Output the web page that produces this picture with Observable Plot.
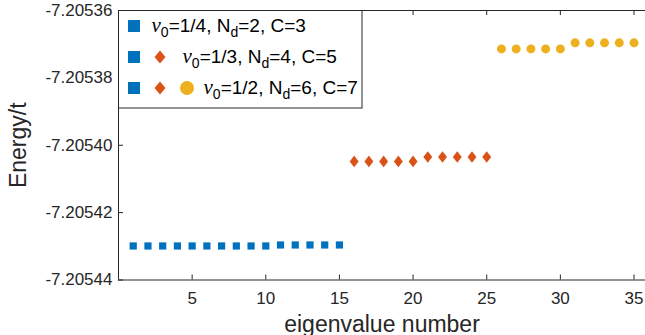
<!DOCTYPE html>
<html><head><meta charset="utf-8">
<script src="https://cdn.jsdelivr.net/npm/d3@7"></script>
<script src="https://cdn.jsdelivr.net/npm/@observablehq/plot@0.6"></script>
<style>
body{margin:0;background:#fff;}
#wrap{position:relative;width:645px;height:335px;overflow:hidden;}
#wrap svg{display:block;}
#legend{position:absolute;left:0;top:0;pointer-events:none;}
</style></head>
<body><div id="wrap"></div>
<script>
// ---- data ----
const xTicks = [5, 10, 15, 20, 25, 30, 35];
const yTicks = [-7.20544, -7.20542, -7.20540, -7.20538, -7.20536];
const xDomain = [0, 35.78];
const yDomain = [-7.20544, -7.20536];

const blueX = [1,2,3,4,5,6,7,8,9,10,11,12,13,14,15];
const blueY = [-7.2054299,-7.2054299,-7.2054299,-7.2054299,-7.2054299,-7.2054299,-7.2054299,-7.2054299,-7.2054299,-7.2054299,
               -7.2054296,-7.2054296,-7.2054296,-7.2054296,-7.2054296];
const orangeX = [16,17,18,19,20,21,22,23,24,25];
const orangeY = [-7.2054048,-7.2054048,-7.2054048,-7.2054048,-7.2054048,
                 -7.2054035,-7.2054035,-7.2054035,-7.2054035,-7.2054035];
const yellowX = [26,27,28,29,30,31,32,33,34,35];
const yellowY = [-7.2053714,-7.2053714,-7.2053714,-7.2053714,-7.2053714,
                 -7.2053696,-7.2053696,-7.2053696,-7.2053696,-7.2053696];

const colors = ["#0072BD", "#D95319", "#EDB120"];
const legendNu = ["1/4", "1/3", "1/2"];
const legendNd = ["2", "4", "6"];
const legendC = ["3", "5", "7"];
const xLabel = "eigenvalue number";
const yLabel = "Energy/t";

// ---- layout ----
const W = 645, H = 335, mT = 10, mB = 55.5, mL = 118, mR = 0;
const plotH = H - mT - mB, plotW = W - mL - mR;
const axisColor = "#262626";
const font = '"Liberation Sans", Arial, sans-serif';

const squareSym = {draw(ctx, size) { const r = Math.sqrt(size / Math.PI); ctx.rect(-r, -r, 2 * r, 2 * r); }};
const diamondSym = {draw(ctx, size) { const r = Math.sqrt(size / Math.PI), w = r * 0.77;
  ctx.moveTo(0, -r); ctx.lineTo(w, 0); ctx.lineTo(0, r); ctx.lineTo(-w, 0); ctx.closePath(); }};

const toRows = (xs, ys) => xs.map((x, i) => ({x, y: ys[i]}));

const chart = Plot.plot({
  width: W, height: H,
  marginTop: mT, marginBottom: mB, marginLeft: mL, marginRight: mR,
  style: {fontFamily: font, color: axisColor, background: "#fff", overflow: "visible"},
  x: {domain: xDomain},
  y: {domain: yDomain},
  marks: [
    Plot.axisY({ticks: yTicks, tickFormat: d => d.toFixed(5), tickSize: 0, tickPadding: 6, fontSize: 17, label: null}),
    Plot.axisX({ticks: xTicks, tickFormat: d => String(d), tickSize: 0, tickPadding: 12, fontSize: 17, label: null}),
    Plot.ruleY([yDomain[0]], {stroke: axisColor}),
    Plot.ruleY([yDomain[1]], {stroke: axisColor}),
    Plot.ruleX([xDomain[0]], {stroke: axisColor}),
    Plot.tickX(xTicks, {x: d => d, insetTop: plotH - 5, stroke: axisColor}),
    Plot.tickX(xTicks, {x: d => d, insetBottom: plotH - 5, stroke: axisColor}),
    Plot.tickY(yTicks, {y: d => d, insetRight: plotW - 5, stroke: axisColor}),
    Plot.dot(toRows(blueX, blueY), {x: "x", y: "y", symbol: squareSym, r: 3.6, fill: colors[0]}),
    Plot.dot(toRows(orangeX, orangeY), {x: "x", y: "y", symbol: diamondSym, r: 5.8, fill: colors[1]}),
    Plot.dot(toRows(yellowX, yellowY), {x: "x", y: "y", symbol: "circle", r: 4.5, fill: colors[2]}),
    Plot.text([xLabel], {frameAnchor: "bottom", textAnchor: "middle", lineAnchor: "middle", dy: 45, fontSize: 23, fill: axisColor}),
    Plot.text([yLabel], {frameAnchor: "left", textAnchor: "middle", lineAnchor: "middle", dx: -100, rotate: -90, fontSize: 23, fill: axisColor})
  ]
});
const wrap = document.getElementById("wrap");
wrap.appendChild(chart);

// ---- legend (overlay inside the axes, top-left) ----
const leg = d3.select(wrap).append("svg").attr("id", "legend")
  .attr("width", W).attr("height", H);
leg.append("rect").attr("x", 118.5).attr("y", 10.5).attr("width", 243.5).attr("height", 97.5)
  .attr("fill", "#fff").attr("stroke", axisColor).attr("stroke-width", 1);

const rowY = [26, 57, 88];
const textX = [151.5, 182.5, 203.5];
const markerX = [134, 160, 187];
rowY.forEach((cy, row) => {
  for (let k = 0; k <= row; k++) {
    const cx = markerX[k];
    if (k === 0) leg.append("rect").attr("x", cx - 6).attr("y", cy - 6).attr("width", 12).attr("height", 12).attr("fill", colors[0]);
    if (k === 1) leg.append("path").attr("d", `M${cx},${cy-6.5}L${cx+5.5},${cy}L${cx},${cy+6.5}L${cx-5.5},${cy}Z`).attr("fill", colors[1]);
    if (k === 2) leg.append("circle").attr("cx", cx).attr("cy", cy).attr("r", 7).attr("fill", colors[2]);
  }
  const t = leg.append("text").attr("x", textX[row]).attr("y", cy + 6)
    .attr("font-family", font).attr("font-size", 19).attr("fill", "#000");
  t.append("tspan").attr("font-family", '"Liberation Serif", serif').attr("font-style", "italic").attr("font-size", 21).text("ν");
  t.append("tspan").attr("dy", 5).attr("font-size", 14).text("0");
  t.append("tspan").attr("dy", -5).text(`=${legendNu[row]}, N`);
  t.append("tspan").attr("dy", 5).attr("font-size", 14).text("d");
  t.append("tspan").attr("dy", -5).text(`=${legendNd[row]}, C=${legendC[row]}`);
});
</script>
</body></html>
